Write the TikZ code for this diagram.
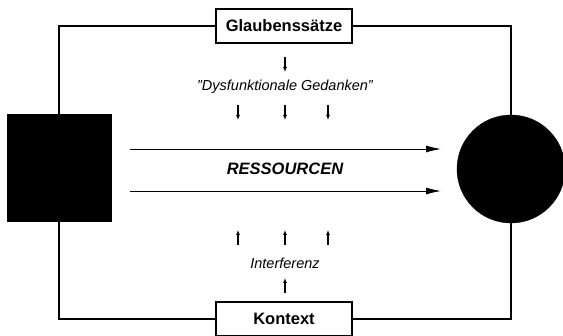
\documentclass[tikz,border=0pt]{standalone}
\usepackage{fontspec}
\setmainfont{Liberation Sans}
\usepackage{tikz}
\usetikzlibrary{positioning}
\usetikzlibrary{arrows.meta}

\begin{document}
\begin{tikzpicture}[x=1pt, y=1pt]
\tikzstyle{label} = [font=\fontsize{16.5}{19}\selectfont\bfseries, draw, line width=1.6pt, fill=white, minimum width=136pt, minimum height=34pt, inner sep=0pt]
\tikzstyle{txt} = [font=\fontsize{14.5}{17}\selectfont\itshape, inner sep=0pt]
\tikzstyle{frame} = [draw, line width=2.8pt]
\tikzstyle{big} = [draw, line width=0.9pt, -{Latex[length=15pt, width=7pt]}]
\tikzstyle{small} = [draw, line width=1.1pt, -{Latex[length=5pt, width=4pt]}]

\useasboundingbox (0,0) rectangle (563,336);

\node [label] (glaub) at (284,310) {Glaubenssätze};
\node [label] (kontext) at (284,17) {Kontext};
\node [draw, fill=black, minimum width=104pt, minimum height=107pt, inner sep=0pt] (quelle) at (59,168) {};
\node [draw, fill=black, circle, minimum size=108pt, inner sep=0pt] (ziel) at (511,167) {};

% Rahmen
\path [frame] (glaub.west) -| (quelle.north);
\path [frame] (quelle.south) |- (kontext.west);
\path [frame] (kontext.east) -| (ziel.south);
\path [frame] (ziel.north) |- (glaub.east);

\node [txt, font=\fontsize{16.5}{19}\selectfont\bfseries\itshape] (res) at (285,167) {RESSOURCEN};
\coordinate (o1) at (130,187);
\coordinate (o2) at (130,145);
\coordinate (e1) at (441,187);
\coordinate (e2) at (441,145);
\path [big] (o1) -- (e1);
\path [big] (o2) -- (e2);

\node [txt] (dys) at (285,249) {\char"22 Dysfunktionale Gedanken\char"22};
\coordinate (d0) at (285,279);
\coordinate (d0e) at (285,264);
\path [small] (d0) -- (d0e);
\coordinate (d1) at (238,231);
\coordinate (d2) at (285,231);
\coordinate (d3) at (328,231);
\coordinate [below=15pt of d1] (d1e);
\coordinate [below=15pt of d2] (d2e);
\coordinate [below=15pt of d3] (d3e);
\path [small] (d1) -- (d1e);
\path [small] (d2) -- (d2e);
\path [small] (d3) -- (d3e);

\node [txt] (inter) at (285,73) {Interferenz};
\coordinate (u1) at (238,91);
\coordinate (u2) at (285,91);
\coordinate (u3) at (328,91);
\coordinate [above=15pt of u1] (u1e);
\coordinate [above=15pt of u2] (u2e);
\coordinate [above=15pt of u3] (u3e);
\path [small] (u1) -- (u1e);
\path [small] (u2) -- (u2e);
\path [small] (u3) -- (u3e);
\coordinate (u0) at (285,43);
\coordinate [above=15pt of u0] (u0e);
\path [small] (u0) -- (u0e);
\end{tikzpicture}
\end{document}
